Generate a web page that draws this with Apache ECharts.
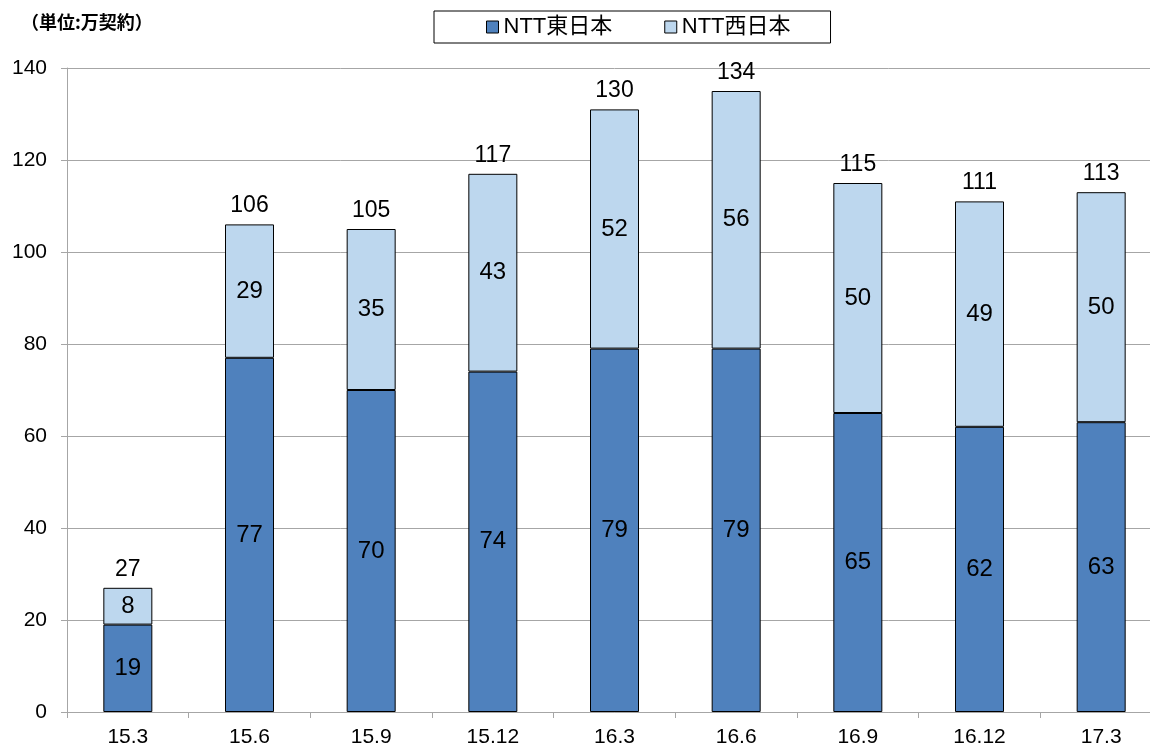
<!DOCTYPE html>
<html><head><meta charset="utf-8">
<script src="https://cdn.jsdelivr.net/npm/echarts@6/dist/echarts.min.js"></script>
<style>html,body{margin:0;padding:0;background:#fff;overflow:hidden}#c{width:1170px;height:749px}</style>
</head><body><div id="c"></div>
<script>
const categories = ['15.3','15.6','15.9','15.12','16.3','16.6','16.9','16.12','17.3'];
const east = [19, 77, 70, 74, 79, 79, 65, 62, 63];
const west = [8, 29, 35, 43, 52, 56, 50, 49, 50];
const totals = [27, 106, 105, 117, 130, 134, 115, 111, 113];
const yTicks = [0, 20, 40, 60, 80, 100, 120, 140];

const font = '"Liberation Sans", Arial, "Noto Sans CJK JP", sans-serif';
const chart = echarts.init(document.getElementById('c'));
chart.setOption({
  animation: false,
  textStyle: {fontFamily: font},
  graphic: [{type: 'text', left: 21, top: 13, style: {text: '（単位:万契約）', font: 'bold 18px "Noto Sans CJK JP", sans-serif', fill: '#000'}}],
  legend: {
    left: 434, top: 11,
    padding: [5, 40, 5, 52],
    borderColor: '#000', borderWidth: 1,
    itemWidth: 12, itemHeight: 12, itemGap: 52,
    textStyle: {fontSize: 22, color: '#000', fontFamily: font},
    data: [
      {name: 'NTT東日本', icon: 'rect', itemStyle: {borderColor: '#000', borderWidth: 1}},
      {name: 'NTT西日本', icon: 'rect', itemStyle: {borderColor: '#000', borderWidth: 1}}
    ]
  },
  grid: {left: 67, top: 68, width: 1095, height: 644, containLabel: false},
  xAxis: {
    type: 'category', data: categories,
    axisLine: {lineStyle: {color: '#A6A6A6', width: 1}},
    axisTick: {show: true, length: 6, lineStyle: {color: '#A6A6A6'}},
    axisLabel: {fontSize: 21, color: '#000', margin: 15, fontFamily: font}
  },
  yAxis: {
    type: 'value', min: yTicks[0], max: yTicks[yTicks.length-1], interval: 20,
    axisLine: {show: true, lineStyle: {color: '#A6A6A6', width: 1}},
    axisTick: {show: true, length: 6, lineStyle: {color: '#A6A6A6'}},
    splitLine: {lineStyle: {color: '#A6A6A6', width: 1}},
    axisLabel: {fontSize: 21, color: '#000', margin: 20, fontFamily: font}
  },
  series: [
    {name: 'NTT東日本', type: 'bar', stack: 's', data: east, barWidth: 49,
     itemStyle: {color: '#4F81BD', borderColor: '#000', borderWidth: 1},
     label: {show: true, position: 'inside', fontSize: 24, color: '#000', fontFamily: font}},
    {name: 'NTT西日本', type: 'bar', stack: 's', data: west, barWidth: 49,
     itemStyle: {color: '#BDD7EE', borderColor: '#000', borderWidth: 1},
     label: {show: true, position: 'inside', fontSize: 24, color: '#000', fontFamily: font}},
    {name: 'total', type: 'bar', stack: 's', data: totals.map(() => 0), barWidth: 49,
     itemStyle: {color: 'transparent'},
     label: {show: true, position: 'top', distance: 7, fontSize: 23, color: '#000', fontFamily: font,
             formatter: p => totals[p.dataIndex]}}
  ]
});
</script></body></html>
